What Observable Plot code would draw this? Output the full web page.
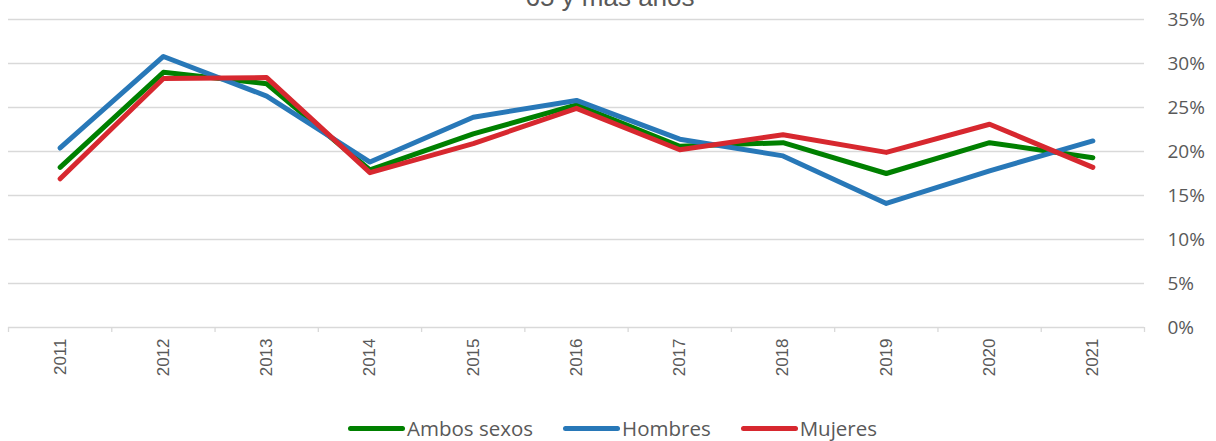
<!DOCTYPE html>
<html>
<head>
<meta charset="utf-8">
<script src="https://cdn.jsdelivr.net/npm/d3@7"></script>
<script src="https://cdn.jsdelivr.net/npm/@observablehq/plot@0.6"></script>
<style>
  html, body { margin: 0; padding: 0; background: #fff; }
  #wrap { position: relative; width: 1216px; height: 441px; overflow: hidden; }
  #title { position: absolute; left: 0; width: 1216px; top: -18px; text-align: center;
           font-family: "Liberation Sans", Arial, sans-serif; font-size: 26px; color: #595959; white-space: nowrap; padding-left: 4px; box-sizing: border-box; }
  #chart { position: absolute; left: 0; top: 0; }
  #legend { position: absolute; left: 348px; top: 416px; display: flex; line-height: 24px;
            font-family: "Open Sans", Lato, sans-serif; font-size: 20.5px; color: #595959; }
  .item { display: flex; align-items: center; margin-right: 30px; }
  .sw { width: 57px; height: 5px; border-radius: 3px; margin-right: 2px; }
</style>
</head>
<body>
<div id="wrap">
  <div id="chart"></div>
  <div id="title">65 y más años</div>
  <div id="legend"></div>
</div>
<script>
const years = [2011, 2012, 2013, 2014, 2015, 2016, 2017, 2018, 2019, 2020, 2021];
const ambos   = [18.2, 29.0, 27.7, 17.9, 22.0, 25.3, 20.6, 21.0, 17.5, 21.0, 19.3];
const hombres = [20.4, 30.8, 26.3, 18.8, 23.9, 25.8, 21.4, 19.5, 14.1, 17.8, 21.2];
const mujeres = [16.9, 28.3, 28.4, 17.6, 20.9, 24.9, 20.2, 21.9, 19.9, 23.1, 18.2];
const seriesNames = ["Ambos sexos", "Hombres", "Mujeres"];
const seriesColors = ["#008000", "#2878B8", "#D7282F"];
const yTicks = [0, 5, 10, 15, 20, 25, 30, 35];

const seriesValues = [ambos, hombres, mujeres];
const rows = [];
seriesNames.forEach((name, s) => {
  years.forEach((yr, i) => rows.push({series: name, year: yr, value: seriesValues[s][i]}));
});
const boundaries = years.map(y => y - 0.5).concat([years[years.length - 1] + 0.5]);

const chart = Plot.plot({
  width: 1216,
  height: 400,
  marginLeft: 8,
  marginRight: 72,
  marginTop: 19,
  marginBottom: 73,
  style: {color: "#595959", background: "transparent", overflow: "visible"},
  x: {type: "linear", domain: [years[0] - 0.5, years[years.length - 1] + 0.5]},
  y: {domain: [0, 35]},
  color: {domain: seriesNames, range: seriesColors},
  marks: [
    Plot.gridY(yTicks, {stroke: "#d9d9d9", strokeOpacity: 1, strokeWidth: 1.3}),
    Plot.axisY(yTicks, {anchor: "right", tickSize: 0, tickPadding: 23, tickFormat: d => d + "%",
      fontSize: 19, fontFamily: "'Open Sans', Lato, sans-serif", label: null}),
    Plot.axisX(boundaries, {tickSize: 5, tickFormat: () => "", stroke: "#d9d9d9", strokeOpacity: 1, strokeWidth: 1.3, label: null}),
    Plot.axisX(years, {tickSize: 0, tickPadding: 11, tickRotate: -90, tickFormat: d => String(d),
      fontSize: 17, fontFamily: "'Liberation Sans', Arial, sans-serif", label: null}),
    Plot.line(rows, {x: "year", y: "value", z: "series", stroke: "series",
      strokeWidth: 5, strokeLinecap: "round", strokeLinejoin: "round"})
  ]
});
document.getElementById("chart").appendChild(chart);

const legend = document.getElementById("legend");
seriesNames.forEach((name, i) => {
  const it = document.createElement("div");
  it.className = "item";
  const sw = document.createElement("div");
  sw.className = "sw";
  sw.style.background = seriesColors[i];
  const tx = document.createElement("span");
  tx.textContent = name;
  it.appendChild(sw);
  it.appendChild(tx);
  legend.appendChild(it);
});
</script>
</body>
</html>
